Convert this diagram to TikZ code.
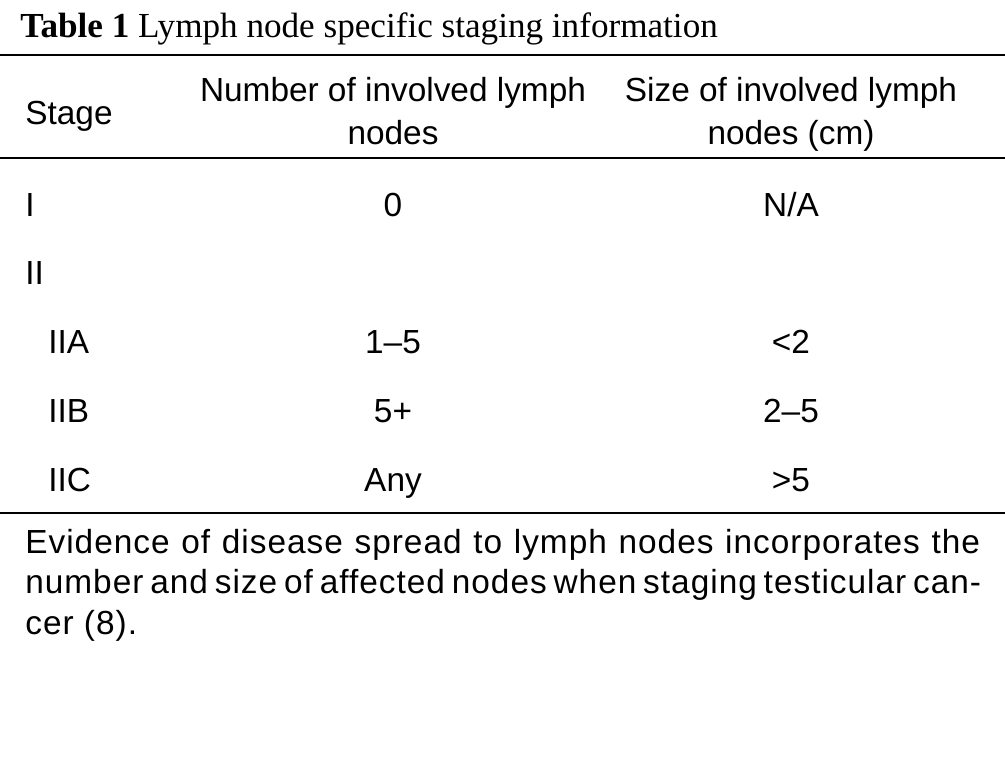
\documentclass[tikz,border=0pt]{standalone}
\usepackage{fontspec}
\setmainfont{Liberation Sans}
\newfontfamily\titlefont{Liberation Serif}
\usetikzlibrary{calc}

\begin{document}
\begin{tikzpicture}[x=0.02cm,y=-0.02cm,
  txt/.style={font=\fontsize{19}{26}\selectfont,inner sep=0pt,anchor=base},
  rule/.style={line width=1.1pt}]

\newcommand{\colA}{25}
\newcommand{\colB}{393}
\newcommand{\colC}{791}

	\useasboundingbox (0,0) rectangle (1005,760);

	\node[txt,anchor=base west,font=\titlefont\fontsize{20}{24}\selectfont] (title) at (20,38)
	  {\textbf{Table 1} Lymph node specific staging information};

	\coordinate (topL) at (0,55);   \coordinate (topR) at (1005,55);
	\coordinate (midL) at (0,158);  \coordinate (midR) at (1005,158);
	\coordinate (botL) at (0,513);  \coordinate (botR) at (1005,513);
	\draw[rule] (topL) -- (topR);
	\draw[rule] (midL) -- (midR);
	\draw[rule] (botL) -- (botR);

	% header
	\node[txt,anchor=base west] (hStage) at (\colA,125) {Stage};
	\node[txt] (hNum1) at (\colB,102) {Number of involved lymph};
	\node[txt] (hNum2) at (\colB,145) {nodes};
	\node[txt] (hSize1) at (\colC,102) {Size of involved lymph};
	\node[txt] (hSize2) at (\colC,145) {nodes (cm)};

	% rows
	\node[txt,anchor=base west] (sI) at (\colA,217) {I};
	\node[txt] (nI) at (\colB,217) {0};
	\node[txt] (zI) at (\colC,217) {N/A};

	\node[txt,anchor=base west] (sII) at (\colA,285) {II};

	\foreach \y/\st/\nm/\sz in {354/IIA/1--5/<2, 422/IIB/5+/2--5, 492/IIC/Any/>5}{
	  \node[txt,anchor=base west] (s\st) at (48,\y) {\st};
	  \node[txt] (n\st) at (\colB,\y) {\nm};
	  \node[txt] (z\st) at (\colC,\y) {\sz};
	}

	% footnote
	\node[txt,anchor=north west,text width=19.1cm,align=justify,
	  font=\fontsize{19}{23}\selectfont\addfontfeatures{LetterSpace=3}] (note) at (\colA,529)
	  {Evidence of disease spread to lymph nodes incorporates the number and size of affected nodes when staging testicular cancer (8).};
\end{tikzpicture}
\end{document}
